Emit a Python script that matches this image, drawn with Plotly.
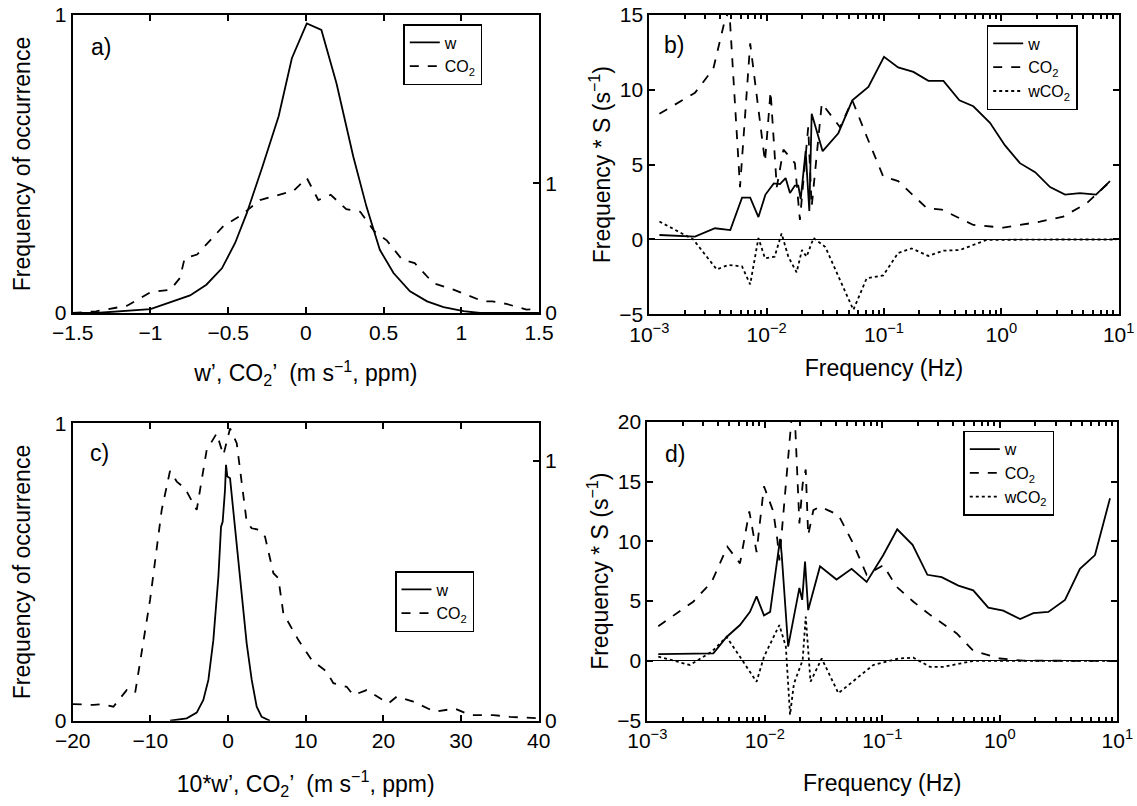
import plotly.graph_objects as go

# ---------------- data ----------------
# panel a : histograms (w on left axis, CO2 on right axis)
a_w_x = [-1.5, -1.35, -1.0, -0.93, -0.745, -0.64, -0.54, -0.455, -0.38, -0.28, -0.175, -0.09, 0.006,
         0.10, 0.197, 0.305, 0.39, 0.476, 0.564, 0.67, 0.78, 0.886, 1.015, 1.12, 1.5]
a_w_y = [0.0, 0.0, 0.013, 0.025, 0.059, 0.095, 0.15, 0.235, 0.335, 0.49, 0.66, 0.855, 0.972,
         0.95, 0.771, 0.525, 0.357, 0.212, 0.134, 0.073, 0.039, 0.02, 0.006, 0.0, 0.0]
a_c_x = [-1.5, -1.35, -1.15, -1.0, -0.87, -0.81, -0.78, -0.70, -0.53, -0.42, -0.295, -0.08, 0.006,
         0.08, 0.16, 0.26, 0.35, 0.44, 0.52, 0.62, 0.70, 0.82, 0.95, 1.14, 1.2, 1.29, 1.42, 1.5]
a_c_y = [0.0, 0.013, 0.056, 0.16, 0.18, 0.27, 0.42, 0.45, 0.67, 0.75, 0.87, 0.94, 1.04,
         0.87, 0.91, 0.80, 0.78, 0.63, 0.56, 0.41, 0.385, 0.23, 0.18, 0.09, 0.09, 0.07, 0.026, 0.03]

# panel b : spectra (Hz, Frequency*S)
b_w_f = [0.00122, 0.00245, 0.00363, 0.0049, 0.00617, 0.00724, 0.00851, 0.00977, 0.0115, 0.0130,
         0.0145, 0.0158, 0.0174, 0.0186, 0.0195, 0.0215, 0.0231, 0.0242, 0.0300, 0.0408, 0.0537,
         0.0736, 0.100, 0.132, 0.178, 0.239, 0.321, 0.439, 0.577, 0.800, 1.07, 1.44, 1.94, 2.60,
         3.49, 4.68, 6.41, 8.43]
b_w_s = [0.30, 0.19, 0.75, 0.63, 2.8, 2.8, 1.5, 3.0, 3.75, 3.7, 4.1, 3.1, 3.6, 3.6, 2.7, 5.9, 1.9,
         8.4, 5.9, 7.1, 9.3, 10.2, 12.2, 11.5, 11.2, 10.6, 10.6, 9.3, 8.9, 7.8, 6.3, 5.1, 4.5, 3.5,
         3.0, 3.1, 3.0, 3.9]
b_c_f = [0.00122, 0.00245, 0.00351, 0.00442, 0.00481, 0.00593, 0.00724, 0.00968, 0.0108, 0.0122,
         0.0139, 0.0174, 0.0192, 0.0212, 0.0226, 0.0242, 0.0295, 0.0422, 0.0537, 0.0711, 0.0986,
         0.132, 0.231, 0.310, 0.577, 1.04, 2.14, 3.37, 5.33, 8.43]
b_c_s = [8.4, 9.8, 11.4, 14.7, 15.3, 3.5, 13.1, 5.2, 9.9, 3.5, 6.0, 5.1, 1.3, 5.3, 7.5, 2.2, 9.1,
         7.5, 9.3, 6.9, 4.2, 3.9, 2.1, 2.0, 0.97, 0.79, 1.19, 1.53, 2.42, 3.86]
b_wc_f = [0.00122, 0.00237, 0.00375, 0.00471, 0.00617, 0.00724, 0.00851, 0.00968, 0.0117, 0.0134,
          0.0153, 0.0180, 0.0200, 0.0219, 0.0251, 0.0316, 0.0548, 0.0711, 0.0986, 0.132, 0.172,
          0.239, 0.321, 0.445, 0.750, 1.5, 3.0, 9.5]
b_wc_s = [1.2, 0.0, -2.0, -1.7, -1.8, -3.0, 0.1, -1.26, -1.15, 0.4, -1.15, -2.2, -0.7, -1.15, 0.1,
          -0.5, -4.7, -2.6, -2.4, -0.9, -0.6, -1.1, -0.75, -0.7, -0.03, 0.0, 0.0, 0.0]

# panel c : histograms (CO2 on left axis, w on right axis)
c_w_x = [-7.47, -5.32, -4.03, -3.18, -2.53, -1.89, -1.24, -0.9, -0.69, -0.39, -0.26, -0.09, 0.26,
         0.69, 1.12, 1.76, 2.40, 3.05, 3.69, 4.33, 5.4]
c_w_y = [0.0, 0.009, 0.031, 0.08, 0.157, 0.31, 0.555, 0.747, 0.766, 0.888, 0.985, 0.94, 0.933,
         0.81, 0.676, 0.49, 0.298, 0.157, 0.054, 0.015, 0.0]
c_c_x = [-20, -17.3, -16.27, -14.76, -13.05, -11.97, -10.04, -8.54, -7.47, -6.6, -5.54, -4.03, -2.75,
         -1.46, -0.6, 0.26, 1.12, 1.76, 2.40, 3.05, 4.12, 4.76, 5.84, 6.48, 7.12, 9.06, 10.77, 12.7,
         13.56, 15.28, 16.14, 17.85, 20.64, 21.72, 23.86, 26.65, 29.2, 31.16, 34.16, 36.3, 40]
c_c_y = [0.056, 0.053, 0.056, 0.047, 0.103, 0.092, 0.406, 0.709, 0.84, 0.804, 0.781, 0.709, 0.91,
         0.966, 0.893, 0.983, 0.933, 0.793, 0.669, 0.647, 0.641, 0.619, 0.496, 0.479, 0.361, 0.271,
         0.204, 0.165, 0.126, 0.114, 0.086, 0.103, 0.058, 0.081, 0.064, 0.03, 0.041, 0.019, 0.019,
         0.013, 0.008]

# panel d : spectra
d_w_f = [0.00124, 0.00365, 0.00473, 0.00615, 0.00748, 0.00851, 0.00984, 0.0111, 0.0135, 0.0139,
         0.0158, 0.0197, 0.0208, 0.0220, 0.0234, 0.0295, 0.0408, 0.0548, 0.0736, 0.102, 0.134,
         0.181, 0.242, 0.320, 0.444, 0.594, 0.798, 1.07, 1.49, 1.93, 2.59, 3.59, 4.81, 6.46, 8.67]
d_w_s = [0.57, 0.63, 2.0, 3.0, 4.1, 5.4, 3.8, 4.1, 10.2, 9.0, 1.2, 6.1, 5.1, 8.3, 4.25, 7.9, 6.8,
         7.7, 6.6, 8.85, 11.0, 9.7, 7.2, 7.0, 6.3, 5.9, 4.45, 4.2, 3.5, 4.0, 4.1, 5.1, 7.7, 8.85,
         13.6]
d_c_f = [0.00124, 0.00246, 0.00353, 0.0048, 0.00615, 0.00738, 0.00851, 0.00984, 0.0118, 0.0128,
         0.0133, 0.0169, 0.0181, 0.0197, 0.0210, 0.0223, 0.0234, 0.0259, 0.0295, 0.0423, 0.0566,
         0.0736, 0.102, 0.132, 0.184, 0.255, 0.430, 0.594, 1.0, 1.58, 9.7]
d_c_s = [2.9, 4.95, 6.6, 9.55, 8.15, 12.5, 9.1, 14.6, 12.5, 10.1, 8.4, 20.3, 19.9, 11.5, 14.8, 16.0,
         10.5, 12.6, 12.9, 12.2, 9.8, 7.2, 8.0, 6.2, 4.95, 3.85, 2.3, 0.86, 0.2, 0.02, 0.0]
d_wc_f = [0.00124, 0.00231, 0.00353, 0.00473, 0.00615, 0.00851, 0.00984, 0.0133, 0.0151, 0.0164,
          0.0177, 0.0210, 0.0223, 0.0245, 0.0305, 0.0423, 0.0838, 0.137, 0.184, 0.255, 0.331,
          0.594, 9.7]
d_wc_s = [0.35, -0.34, 0.77, 2.0, 0.35, -1.74, 0.35, 3.0, 1.2, -4.5, -1.9, 0.07, 3.7, -1.74, 0.2,
          -2.7, -0.34, 0.2, 0.27, -0.5, -0.5, 0.0, 0.0]

log_tickvals = [0.001, 0.01, 0.1, 1, 10]
log_ticktext = ["10<sup>−3</sup>", "10<sup>−2</sup>", "10<sup>−1</sup>", "10<sup>0</sup>", "10<sup>1</sup>"]
log_minor_vals = [m * d for d in [0.001, 0.01, 0.1, 1] for m in range(2, 10)]

# ---------------- figure ----------------
FONT = "Liberation Sans, Arial, Helvetica, sans-serif"
W, H = 1137, 806
LW = 1.8

fig = go.Figure()

def ln(dash):
    return dict(color="black", width=LW, dash=dash)

# a
fig.add_trace(go.Scatter(x=a_w_x, y=a_w_y, xaxis="x", yaxis="y", mode="lines", line=ln("solid"),
                         name="w", legend="legend"))
fig.add_trace(go.Scatter(x=a_c_x, y=a_c_y, xaxis="x", yaxis="y2", mode="lines", line=ln("dash"),
                         name="CO<sub>2</sub>", legend="legend"))
# b
fig.add_trace(go.Scatter(x=b_w_f, y=b_w_s, xaxis="x2", yaxis="y3", mode="lines", line=ln("solid"),
                         name="w", legend="legend2"))
fig.add_trace(go.Scatter(x=b_c_f, y=b_c_s, xaxis="x2", yaxis="y3", mode="lines", line=ln("dash"),
                         name="CO<sub>2</sub>", legend="legend2"))
fig.add_trace(go.Scatter(x=b_wc_f, y=b_wc_s, xaxis="x2", yaxis="y3", mode="lines", line=ln("dot"),
                         name="wCO<sub>2</sub>", legend="legend2"))
# c
fig.add_trace(go.Scatter(x=c_w_x, y=c_w_y, xaxis="x3", yaxis="y5", mode="lines", line=ln("solid"),
                         name="w", legend="legend3"))
fig.add_trace(go.Scatter(x=c_c_x, y=c_c_y, xaxis="x3", yaxis="y4", mode="lines", line=ln("dash"),
                         name="CO<sub>2</sub>", legend="legend3"))
# d
fig.add_trace(go.Scatter(x=d_w_f, y=d_w_s, xaxis="x4", yaxis="y6", mode="lines", line=ln("solid"),
                         name="w", legend="legend4"))
fig.add_trace(go.Scatter(x=d_c_f, y=d_c_s, xaxis="x4", yaxis="y6", mode="lines", line=ln("dash"),
                         name="CO<sub>2</sub>", legend="legend4"))
fig.add_trace(go.Scatter(x=d_wc_f, y=d_wc_s, xaxis="x4", yaxis="y6", mode="lines", line=ln("dot"),
                         name="wCO<sub>2</sub>", legend="legend4"))

# empty carrier traces so that the minor-tick overlay axes get drawn
fig.add_trace(go.Scatter(x=[None], y=[None], xaxis="x5", yaxis="y3", mode="lines",
                         showlegend=False, hoverinfo="skip"))
fig.add_trace(go.Scatter(x=[None], y=[None], xaxis="x6", yaxis="y6", mode="lines",
                         showlegend=False, hoverinfo="skip"))

tickfont = dict(family=FONT, size=21, color="black")
titlefont = dict(family=FONT, size=23, color="black")

def xdom(l, r):
    return [l / W, r / W]

def ydom(top, bot):
    return [1 - bot / H, 1 - top / H]

def axis(**kw):
    base = dict(showgrid=False, zeroline=False, showline=True, linecolor="black", linewidth=2,
                ticks="inside", ticklen=6, tickwidth=1.5, tickcolor="black", tickfont=tickfont,
                title_font=titlefont, automargin=False, layer="above traces")
    base.update(kw)
    return base

xa_dom = xdom(72.7, 539)
xb_dom = xdom(649.3, 1118.7)
xc_dom = xdom(72.7, 538.7)
xd_dom = xdom(647.3, 1117.3)
ya_dom = ydom(15, 313)
yb_dom = ydom(15, 314.3)
yc_dom = ydom(423.3, 720.7)
yd_dom = ydom(421.7, 720.7)

xtitle_hist1 = "w’, CO<sub>2</sub>’  (m s<sup>−1</sup>, ppm)"
xtitle_hist2 = "10*w’, CO<sub>2</sub>’  (m s<sup>−1</sup>, ppm)"
xtitle_spec = "Frequency (Hz)"
ytitle_hist = "Frequency of occurrence"
ytitle_spec = "Frequency * S (s<sup>−1</sup>)"

def minor_axis(dom, anchor, over):
    # overlay axis that only carries the minor log ticks (2..9 per decade), top and bottom
    return dict(domain=dom, anchor=anchor, overlaying=over, type="log", range=[-3, 1],
                tickmode="array", tickvals=log_minor_vals, ticks="inside", ticklen=4,
                tickwidth=1.5, tickcolor="black", showticklabels=False, showgrid=False,
                zeroline=False, showline=True, linecolor="black", linewidth=2, mirror="ticks",
                automargin=False, layer="above traces")

fig.update_layout(
    width=W, height=H, autosize=False,
    margin=dict(l=0, r=0, t=0, b=0),
    paper_bgcolor="white", plot_bgcolor="white",
    font=dict(family=FONT, color="black"),
    # a
    xaxis=axis(domain=xa_dom, anchor="y", range=[-1.5, 1.5], tickvals=[-1.5, -1, -0.5, 0, 0.5, 1, 1.5],
               mirror="ticks", title=dict(text=xtitle_hist1, standoff=22)),
    yaxis=axis(domain=ya_dom, anchor="x", range=[0, 1], tickvals=[0, 1], mirror=False,
               title=dict(text=ytitle_hist, standoff=18)),
    yaxis2=axis(domain=ya_dom, anchor="x", overlaying="y", side="right", range=[0, 2.295],
                tickvals=[0, 1]),
    # b
    xaxis2=axis(domain=xb_dom, anchor="y3", type="log", range=[-3, 1], tickvals=log_tickvals,
                ticktext=log_ticktext, mirror="ticks",
                title=dict(text=xtitle_spec, standoff=15)),
    xaxis5=minor_axis(xb_dom, "y3", "x2"),
    yaxis3=axis(domain=yb_dom, anchor="x2", range=[-5, 15], tickvals=[-5, 0, 5, 10, 15], mirror="ticks",
                zeroline=True, zerolinecolor="black", zerolinewidth=1,
                title=dict(text=ytitle_spec, standoff=2)),
    # c
    xaxis3=axis(domain=xc_dom, anchor="y4", range=[-20, 40], tickvals=[-20, -10, 0, 10, 20, 30, 40],
                mirror="ticks", title=dict(text=xtitle_hist2, standoff=25)),
    yaxis4=axis(domain=yc_dom, anchor="x3", range=[0, 1], tickvals=[0, 1], mirror=False,
                title=dict(text=ytitle_hist, standoff=18)),
    yaxis5=axis(domain=yc_dom, anchor="x3", overlaying="y4", side="right", range=[0, 1.145],
                tickvals=[0, 1]),
    # d
    xaxis4=axis(domain=xd_dom, anchor="y6", type="log", range=[-3, 1], tickvals=log_tickvals,
                ticktext=log_ticktext, mirror="ticks",
                title=dict(text=xtitle_spec, standoff=24)),
    xaxis6=minor_axis(xd_dom, "y6", "x4"),
    yaxis6=axis(domain=yd_dom, anchor="x4", range=[-5, 20], tickvals=[-5, 0, 5, 10, 15, 20], mirror="ticks",
                zeroline=True, zerolinecolor="black", zerolinewidth=1,
                title=dict(text=ytitle_spec, standoff=2)),
)

leg_common = dict(bgcolor="white", bordercolor="black", borderwidth=1.5,
                  font=dict(family=FONT, size=16, color="black"),
                  xanchor="left", yanchor="top", tracegroupgap=0, itemwidth=30)
fig.update_layout(
    legend=dict(x=403.3 / W, y=1 - 24 / H, **leg_common),
    legend2=dict(x=986.7 / W, y=1 - 25 / H, **leg_common),
    legend3=dict(x=395 / W, y=1 - 571 / H, **leg_common),
    legend4=dict(x=963.3 / W, y=1 - 430.7 / H, **leg_common),
)

labels = [("a)", 89, 47), ("b)", 662, 45), ("c)", 88, 453), ("d)", 663, 454)]
for txt, px, py in labels:
    fig.add_annotation(text=txt, x=px / W, y=1 - py / H, xref="paper", yref="paper",
                       xanchor="left", yanchor="middle", showarrow=False,
                       font=dict(family=FONT, size=23, color="black"))

fig.write_html("out.html", config={"displayModeBar": False},
               post_script="document.body.style.margin='0';")
